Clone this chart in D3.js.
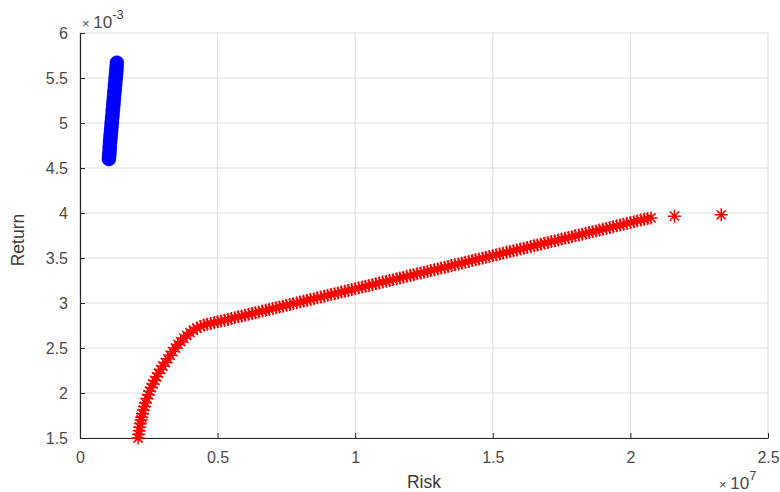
<!DOCTYPE html>
<html>
<head>
<meta charset="utf-8">
<script src="https://cdn.jsdelivr.net/npm/d3@7"></script>
<style>
  html, body { margin: 0; padding: 0; background: #fff; }
  svg { display: block; font-family: "Liberation Sans", Arial, sans-serif; }
</style>
</head>
<body>
<svg id="chart" width="780" height="492"></svg>
<script>
// Risk in units of 1e7, Return in units of 1e-3
const riskBlue = [0.105,0.106,0.107,0.108,0.108,0.109,0.110,0.111,0.112,0.113,0.114,0.115,0.116,0.117,0.118,0.119,0.120,0.121,0.122,0.123,0.124,0.125,0.126,0.127,0.128,0.129,0.130,0.131,0.132,0.133,0.134];
const returnBlue = [4.60,4.64,4.67,4.71,4.74,4.78,4.81,4.85,4.88,4.92,4.95,4.99,5.02,5.06,5.09,5.13,5.16,5.20,5.23,5.27,5.30,5.34,5.37,5.41,5.44,5.48,5.51,5.55,5.58,5.62,5.67];

const riskRed = [
  0.211,0.213,0.215,0.217,0.219,0.222,0.224,0.227,0.230,0.234,0.238,0.243,0.248,0.253,0.259,0.265,0.271,0.278,0.285,0.293,
  0.301,0.310,0.319,0.328,0.337,0.346,0.356,0.366,0.377,0.388,0.400,0.412,0.425,0.438,0.450,0.462,
  0.475,0.4875,0.500,0.5125,0.525,0.5375,0.550,0.5625,0.575,0.5875,0.600,0.6125,0.625,0.6375,0.650,0.6625,0.675,0.6875,0.700,0.7125,
  0.725,0.7375,0.750,0.7625,0.775,0.7875,0.800,0.8125,0.825,0.8375,0.850,0.8625,0.875,0.8875,0.900,0.9125,0.925,0.9375,0.950,0.9625,
  0.975,0.9875,1.000,1.0125,1.025,1.0375,1.050,1.0625,1.075,1.0875,1.100,1.1125,1.125,1.1375,1.150,1.1625,1.175,1.1875,1.200,1.2125,
  1.225,1.2375,1.250,1.2625,1.275,1.2875,1.300,1.3125,1.325,1.3375,1.350,1.3625,1.375,1.3875,1.400,1.4125,1.425,1.4375,1.450,1.4625,
  1.475,1.4875,1.500,1.5125,1.525,1.5375,1.550,1.5625,1.575,1.5875,1.600,1.6125,1.625,1.6375,1.650,1.6625,1.675,1.6875,1.700,1.7125,
  1.725,1.7375,1.750,1.7625,1.775,1.7875,1.800,1.8125,1.825,1.8375,1.850,1.8625,1.875,1.8875,1.900,1.9125,1.925,1.9375,1.950,1.9625,
  1.975,1.9875,2.000,2.0125,2.025,2.0375,2.050,2.0625,2.075,2.160,2.330];
const returnRed = [
  1.50,1.54,1.58,1.62,1.66,1.70,1.73,1.77,1.81,1.85,1.89,1.94,1.98,2.02,2.06,2.10,2.14,2.18,2.22,2.26,
  2.30,2.34,2.38,2.42,2.46,2.50,2.54,2.57,2.61,2.64,2.67,2.70,2.72,2.74,2.755,2.765,
  2.773,2.782,2.791,2.800,2.809,2.818,2.828,2.837,2.846,2.855,2.864,2.874,2.883,2.892,2.901,2.910,2.919,2.929,2.938,2.947,
  2.956,2.965,2.975,2.984,2.993,3.002,3.011,3.021,3.030,3.039,3.048,3.057,3.066,3.076,3.085,3.094,3.103,3.112,3.122,3.131,
  3.140,3.149,3.158,3.168,3.177,3.186,3.195,3.204,3.213,3.223,3.232,3.241,3.250,3.259,3.269,3.278,3.287,3.296,3.305,3.315,
  3.324,3.333,3.342,3.351,3.360,3.370,3.379,3.388,3.397,3.406,3.416,3.425,3.434,3.443,3.452,3.462,3.471,3.480,3.489,3.498,
  3.507,3.517,3.526,3.535,3.544,3.553,3.563,3.572,3.581,3.590,3.599,3.609,3.618,3.627,3.636,3.645,3.654,3.664,3.673,3.682,
  3.691,3.700,3.710,3.719,3.728,3.737,3.746,3.756,3.765,3.774,3.783,3.792,3.801,3.811,3.820,3.829,3.838,3.847,3.857,3.866,
  3.875,3.884,3.893,3.903,3.912,3.921,3.930,3.939,3.945,3.965,3.980];

const xTicks = [0, 0.5, 1, 1.5, 2, 2.5];
const xTickLabels = ["0", "0.5", "1", "1.5", "2", "2.5"];
const yTicks = [1.5, 2, 2.5, 3, 3.5, 4, 4.5, 5, 5.5, 6];
const yTickLabels = ["1.5", "2", "2.5", "3", "3.5", "4", "4.5", "5", "5.5", "6"];

const svg = d3.select("#chart");
const L = 80, R = 768, T = 33, B = 438;
const x = d3.scaleLinear().domain([0, 2.5]).range([L, R]);
const y = d3.scaleLinear().domain([1.5, 6]).range([B, T]);

// grid
const grid = svg.append("g");
grid.selectAll("line.gx").data(xTicks).join("line")
  .attr("x1", d => x(d)).attr("x2", d => x(d)).attr("y1", T).attr("y2", B)
  .attr("stroke", "#dedede").attr("stroke-width", 1);
grid.selectAll("line.gy").data(yTicks).join("line")
  .attr("y1", d => y(d)).attr("y2", d => y(d)).attr("x1", L).attr("x2", R)
  .attr("stroke", "#dedede").attr("stroke-width", 1);

// axes
const xAxis = d3.axisBottom(x).tickValues(xTicks).tickFormat((d, i) => xTickLabels[i]).tickSizeInner(-5).tickSizeOuter(0).tickPadding(14);
const yAxis = d3.axisLeft(y).tickValues(yTicks).tickFormat((d, i) => yTickLabels[i]).tickSizeInner(-5).tickSizeOuter(0).tickPadding(12);

const gx = svg.append("g").attr("transform", `translate(0,${B})`).call(xAxis);
const gy = svg.append("g").attr("transform", `translate(${L},0)`).call(yAxis);
[gx, gy].forEach(g => {
  g.select(".domain").attr("stroke", "#262626").attr("stroke-width", 1.2);
  g.selectAll(".tick line").attr("stroke", "#262626");
  g.selectAll(".tick text").attr("fill", "#4a4a4a").attr("font-size", 16)
    .attr("font-family", "Liberation Sans, Arial, sans-serif");
});

// red asterisks
const r = 6.5, k = r * 0.707;
const star = `M${-r},0H${r}M0,${-r}V${r}M${-k},${-k}L${k},${k}M${-k},${k}L${k},${-k}`;
svg.append("g").selectAll("path").data(riskRed.map((d, i) => [d, returnRed[i]])).join("path")
  .attr("transform", d => `translate(${x(d[0])},${y(d[1])})`)
  .attr("d", star).attr("fill", "none").attr("stroke", "#ff0000").attr("stroke-width", 1.5);

// blue circles
svg.append("g").selectAll("circle").data(riskBlue.map((d, i) => [d, returnBlue[i]])).join("circle")
  .attr("cx", d => x(d[0])).attr("cy", d => y(d[1])).attr("r", 7)
  .attr("fill", "#0000ff").attr("stroke", "#0000ff").attr("stroke-width", 0.5);

// labels
svg.append("text").attr("x", 424).attr("y", 488).attr("text-anchor", "middle")
  .attr("font-size", 17.5).attr("fill", "#3a3a3a").text("Risk");
svg.append("text").attr("transform", "translate(24,240) rotate(-90)").attr("text-anchor", "middle")
  .attr("font-size", 17.5).attr("fill", "#3a3a3a").text("Return");

// exponent labels
const e1 = svg.append("text").attr("x", 82).attr("y", 28).attr("fill", "#4a4a4a");
e1.append("tspan").attr("font-size", 13).text("× ");
e1.append("tspan").attr("font-size", 17).text("10");
e1.append("tspan").attr("dy", -9).attr("font-size", 13).text("-3");
const e2 = svg.append("text").attr("x", 719).attr("y", 489).attr("fill", "#4a4a4a");
e2.append("tspan").attr("font-size", 13).text("× ");
e2.append("tspan").attr("font-size", 17).text("10");
e2.append("tspan").attr("dy", -9).attr("font-size", 13).text("7");
</script>
</body>
</html>
